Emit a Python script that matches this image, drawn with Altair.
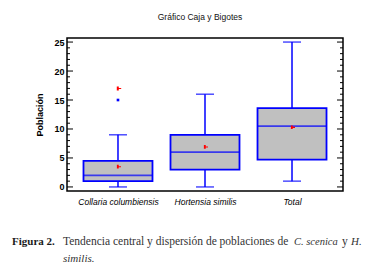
import altair as alt
import pandas as pd

categories = ["Collaria columbiensis", "Hortensia similis", "Total"]
q1 = [1.0, 3.0, 4.7]
q3 = [4.5, 9.0, 13.6]
median = [2.0, 6.0, 10.5]
whisker_low = [0.0, 0.0, 1.0]
whisker_high = [9.0, 16.0, 25.0]
means = [3.5, 6.9, 10.3]
outlier_cat = ["Collaria columbiensis"]
outlier_val = [15.0]
far_cat = ["Collaria columbiensis"]
far_val = [17.0]
major_ticks = [0, 5, 10, 15, 20, 25]
minor_ticks = [v for v in range(0, 26) if v % 5 != 0]

W, H = 276, 153
SANS = "Liberation Sans, Arial, sans-serif"
SERIF = "Liberation Serif, Times New Roman, serif"
BLUE = "#0000ff"

df = pd.DataFrame({"cat": categories, "q1": q1, "q3": q3, "med": median,
                   "lo": whisker_low, "hi": whisker_high, "mean": means})
out_df = pd.DataFrame({"cat": outlier_cat, "v": outlier_val})
far_df = pd.DataFrame({"cat": far_cat, "v": far_val})
maj_df = pd.DataFrame({"v": major_ticks})
min_df = pd.DataFrame({"v": minor_ticks})

yscale = alt.Scale(domain=[-0.7, 25.7], nice=False, zero=False)
xscale = alt.Scale(type="point", padding=0.586)
xaxis = alt.Axis(title=None, ticks=False, domain=False, labelAngle=0,
                 labelFont=SANS, labelFontSize=8.5, labelFontStyle="italic",
                 labelColor="black", labelPadding=6)
yaxis = alt.Axis(values=major_ticks, ticks=False, domain=False, grid=False,
                 labelFont=SANS, labelFontSize=9, labelFontWeight="bold",
                 labelColor="black", labelPadding=3,
                 title="Población", titleFont=SANS, titleFontSize=9,
                 titleFontWeight="bold", titleColor="black",
                 titleX=-28, titleY=H / 2, titleAlign="center", titleBaseline="middle")


def X():
    return alt.X("cat:N", sort=categories, scale=xscale, axis=xaxis)


def Y(field):
    return alt.Y(field, scale=yscale, axis=yaxis)


whiskers = alt.Chart(df).mark_rule(color=BLUE, strokeWidth=1.5).encode(
    x=X(), y=Y("lo:Q"), y2="hi:Q")
caps_lo = alt.Chart(df).mark_tick(color=BLUE, size=18, thickness=1.5).encode(
    x=X(), y=Y("lo:Q"))
caps_hi = alt.Chart(df).mark_tick(color=BLUE, size=18, thickness=1.5).encode(
    x=X(), y=Y("hi:Q"))
boxes = alt.Chart(df).mark_bar(size=69, fill="#c0c0c0", stroke=BLUE, strokeWidth=1.8).encode(
    x=X(), y=Y("q1:Q"), y2="q3:Q")
meds = alt.Chart(df).mark_tick(color=BLUE, size=69, thickness=1.8).encode(
    x=X(), y=Y("med:Q"))

MARK = "M-0.6,-1L0.4,-1L0.4,-0.25L1.6,-0.25L1.6,0.35L0.4,0.35L0.4,1L-0.6,1Z"
mean_pts = alt.Chart(df).mark_point(shape=MARK, filled=True, color="red", size=14, opacity=1).encode(
    x=X(), y=Y("mean:Q"))
far_pts = alt.Chart(far_df).mark_point(shape=MARK, filled=True, color="red", size=16, opacity=1).encode(
    x=X(), y=Y("v:Q"))
out_pts = alt.Chart(out_df).mark_point(shape="square", filled=True, color=BLUE, size=7, opacity=1).encode(
    x=X(), y=Y("v:Q"))


def ticks(data, x1, x2):
    return alt.Chart(data).mark_rule(color="black", strokeWidth=1).encode(
        y=Y("v:Q"), x=alt.value(x1), x2=alt.value(x2))


tick_layers = [ticks(maj_df, 0, 6), ticks(min_df, 0, 3),
               ticks(maj_df, W, W - 6), ticks(min_df, W, W - 3)]


def label(text, x, y, font, size, weight="normal", style="normal", color="black", align="left"):
    return alt.Chart(alt.Data(values=[{"a": 1}])).mark_text(
        font=font, fontSize=size, fontWeight=weight, fontStyle=style, color=color,
        align=align, baseline="alphabetic").encode(
        x=alt.value(x), y=alt.value(y), text=alt.value(text))


texts = [
    label("Gráfico Caja y Bigotes", 133, -18, SANS, 8.5, align="center", color="#111"),
    label("Figura 2.", -55, 207, SERIF, 11, weight="bold", color="#1a1a1a"),
    label("Tendencia central y dispersión de poblaciones de", -4, 207, SERIF, 11.5, color="#333"),
    label("C. scenica", 227, 207, SERIF, 10.5, style="italic", color="#333"),
    label("y", 275, 207, SERIF, 11.5, color="#333"),
    label("H.", 284, 207, SERIF, 11, style="italic", color="#333"),
    label("similis.", -4, 224, SERIF, 11, style="italic", color="#333"),
]

chart = alt.layer(
    whiskers, caps_lo, caps_hi, boxes, meds, mean_pts, far_pts, out_pts,
    *tick_layers, *texts
).properties(
    width=W, height=H,
    autosize=alt.AutoSizeParams(type="none"),
    padding={"left": 59, "top": 30, "right": 20, "bottom": 73},
    background="white",
).configure_view(stroke="black", strokeWidth=1.5)

chart.save("out.html", embed_options={"renderer": "svg", "actions": False})
